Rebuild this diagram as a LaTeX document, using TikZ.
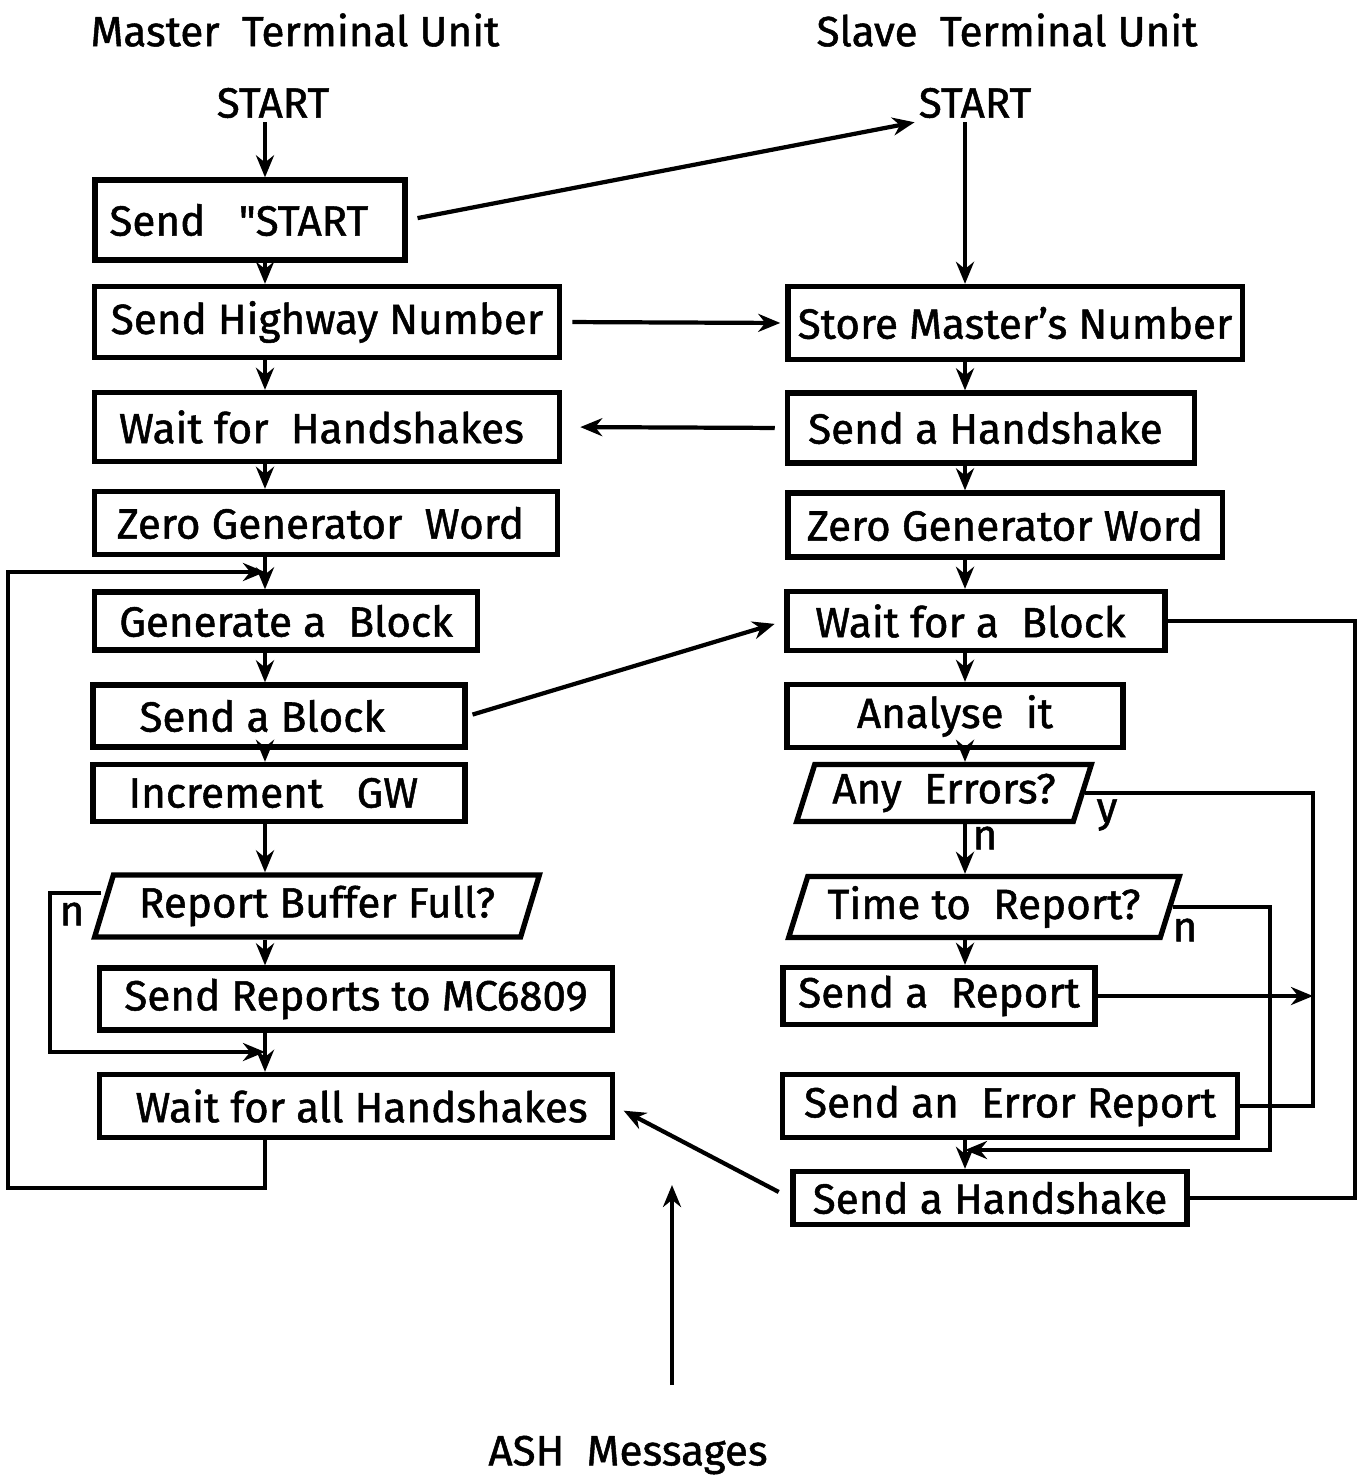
\documentclass[tikz,border=0pt]{standalone}
\usepackage{fontspec}
\setmainfont{Fira Sans}[FakeBold=1.2]
\usetikzlibrary{arrows.meta,shapes.geometric}

\begin{document}
\begin{tikzpicture}[
    x=0.01cm, y=-0.01cm,
    % box and decision styles
    boxStyle/.style={draw, line width=1.5pt, inner sep=0pt, font=\fontsize{12}{14}\selectfont},
    askStyle/.style={boxStyle, trapezium, trapezium left angle=68, trapezium right angle=112,
        trapezium stretches=true},
    flowStyle/.style={line width=1.2pt, -{Stealth[length=2.2mm,width=1.8mm]}},
    linkStyle/.style={line width=1.2pt},
    textStyle/.style={font=\fontsize{12}{14}\selectfont, inner sep=1pt}
]
    \useasboundingbox (0,0) rectangle (1364,1479);

    % lanes of the two flows
    \coordinate (lx) at (265,0);
    \coordinate (rx) at (965,0);

    % Headings
    \node[textStyle] (mtu) at (295,30) {Master~ Terminal Unit};
    \node[textStyle] (stu) at (1007,30) {Slave~ Terminal Unit};
    \node[textStyle] (mstart) at (273,103) {START};
    \node[textStyle] (sstart) at (975,103) {START};
    \node[textStyle] (ash) at (628,1455) {ASH~ Messages};

    % Master Terminal Unit
    \node[boxStyle, minimum width=3.10cm, minimum height=0.80cm] (sendstart) at (250,220) {Send~~ \textquotedbl START~~~};
    \node[boxStyle, minimum width=4.65cm, minimum height=0.71cm] (highway) at (327,322) {Send Highway Number};
    \node[boxStyle, minimum width=4.65cm, minimum height=0.69cm] (waiths) at (327,427) {Wait for~ Handshakes~~};
    \node[boxStyle, minimum width=4.63cm, minimum height=0.63cm] (zerogw) at (326,523) {Zero Generator~ Word~~};
    \node[boxStyle, minimum width=3.83cm, minimum height=0.58cm] (genblock) at (286,621) {Generate a~ Block};
    \node[boxStyle, minimum width=3.72cm, minimum height=0.62cm] (sendblock) at (279,716) {~Send a Block~~~~~};
    \node[boxStyle, minimum width=3.72cm, minimum height=0.57cm] (incgw) at (279,793) {Increment~~ GW~~};
    \node[askStyle, minimum width=4.45cm, minimum height=0.62cm] (rbf) at (317,906) {Report Buffer Full?};
    \node[boxStyle, minimum width=5.12cm, minimum height=0.62cm] (sendrep) at (356,999) {Send Reports to MC6809};
    \node[boxStyle, minimum width=5.12cm, minimum height=0.63cm] (waitall) at (356,1106) {~Wait for all Handshakes};

    % Slave Terminal Unit
    \node[boxStyle, minimum width=4.54cm, minimum height=0.73cm] (storem) at (1015,323) {Store Master's Number};
    \node[boxStyle, minimum width=4.07cm, minimum height=0.70cm] (sendhs) at (991,428) {Send a Handshake~~};
    \node[boxStyle, minimum width=4.34cm, minimum height=0.64cm] (zerogw2) at (1005,525) {Zero Generator Word};
    \node[boxStyle, minimum width=3.78cm, minimum height=0.59cm] (waitblk) at (976,621) {Wait for a~ Block~~};
    \node[boxStyle, minimum width=3.36cm, minimum height=0.63cm] (analyse) at (955,716) {Analyse~ it};
    \node[askStyle, minimum width=2.95cm, minimum height=0.57cm] (anyerr) at (944,793) {Any~ Errors?};
    \node[askStyle, minimum width=3.92cm, minimum height=0.61cm] (timerep) at (984,907) {Time to~ Report?};
    \node[boxStyle, minimum width=3.12cm, minimum height=0.57cm] (sendrpt) at (939,996) {Send a~ Report};
    \node[boxStyle, minimum width=4.55cm, minimum height=0.63cm] (senderr) at (1010,1106) {Send an~ Error Report};
    \node[boxStyle, minimum width=3.94cm, minimum height=0.53cm] (sendhs2) at (990,1198) {Send a Handshake};

    % branch labels
    \node[textStyle] (nrbf) at (72,914) {n};
    \node[textStyle] (yerr) at (1107,815) {y};
    \node[textStyle] (nerr) at (985,838) {n};
    \node[textStyle] (ntime) at (1185,930) {n};

    % Master flow
    \draw[flowStyle] (mstart.south -| lx) -- (sendstart.north -| lx);
    \draw[flowStyle] (sendstart.south -| lx) -- (highway.north -| lx);
    \draw[flowStyle] (highway.south -| lx) -- (waiths.north -| lx);
    \draw[flowStyle] (waiths.south -| lx) -- (zerogw.north -| lx);
    \draw[flowStyle] (zerogw.south -| lx) -- (genblock.north -| lx);
    \draw[flowStyle] (genblock.south -| lx) -- (sendblock.north -| lx);
    \draw[flowStyle] (sendblock.south -| lx) -- (incgw.north -| lx);
    \draw[flowStyle] (incgw.south -| lx) -- (rbf.north -| lx);
    \draw[flowStyle] (rbf.south -| lx) -- (sendrep.north -| lx);
    \draw[flowStyle] (sendrep.south -| lx) -- (waitall.north -| lx);

    % n branch and outer loop
    \coordinate (nlane) at (50,893);
    \coordinate (jn) at (265,1052);
    \draw[flowStyle] (nlane -| rbf.west) -- (nlane) |- (jn);
    \coordinate (bigl) at (8,1188);
    \coordinate (jz) at (265,572);
    \draw[flowStyle] (waitall.south -| lx) |- (bigl) |- (jz);

    % Slave flow
    \draw[flowStyle] (sstart.south -| rx) -- (storem.north -| rx);
    \draw[flowStyle] (storem.south -| rx) -- (sendhs.north -| rx);
    \draw[flowStyle] (sendhs.south -| rx) -- (zerogw2.north -| rx);
    \draw[flowStyle] (zerogw2.south -| rx) -- (waitblk.north -| rx);
    \draw[flowStyle] (waitblk.south -| rx) -- (analyse.north -| rx);
    \draw[flowStyle] (analyse.south -| rx) -- (anyerr.north -| rx);
    \draw[flowStyle] (anyerr.south -| rx) -- (timerep.north -| rx);
    \draw[flowStyle] (timerep.south -| rx) -- (sendrpt.north -| rx);
    \draw[flowStyle] (senderr.south -| rx) -- (sendhs2.north -| rx);

    % y / n branches on the right
    \coordinate (ylane) at (1313,0);
    \coordinate (tlane) at (1270,0);
    \coordinate (blane) at (1355,0);
    \coordinate (jhs) at (965,1150);
    \draw[linkStyle] (anyerr.east) -- (anyerr.east -| ylane) -- (senderr.east -| ylane) -- (senderr.east);
    \draw[flowStyle] (sendrpt.east) -- (sendrpt.east -| ylane);
    \draw[flowStyle] (timerep.east) -| (tlane |- jhs) -- (jhs);
    \draw[linkStyle] (sendhs2.east) -- (sendhs2.east -| blane) -- (waitblk.east -| blane) -- (waitblk.east);

    % messages between the units
    \draw[flowStyle, shorten <=1mm] (sendstart.east) -- (sstart.south west);
    \draw[flowStyle, shorten <=1mm, shorten >=0.5mm] (highway.east) -- (storem.west);
    \draw[flowStyle, shorten <=1mm, shorten >=1.8mm] (sendhs.west) -- (waiths.east);
    \draw[flowStyle, shorten <=0.5mm, shorten >=1mm] (sendblock.east) -- (waitblk.west);
    \draw[flowStyle, shorten <=1.3mm, shorten >=1mm] (sendhs2.west) -- (waitall.east);
    \coordinate (ashtail) at (672,1385);
    \coordinate (ashhead) at (672,1185);
    \draw[flowStyle] (ashtail) -- (ashhead);
\end{tikzpicture}
\end{document}
